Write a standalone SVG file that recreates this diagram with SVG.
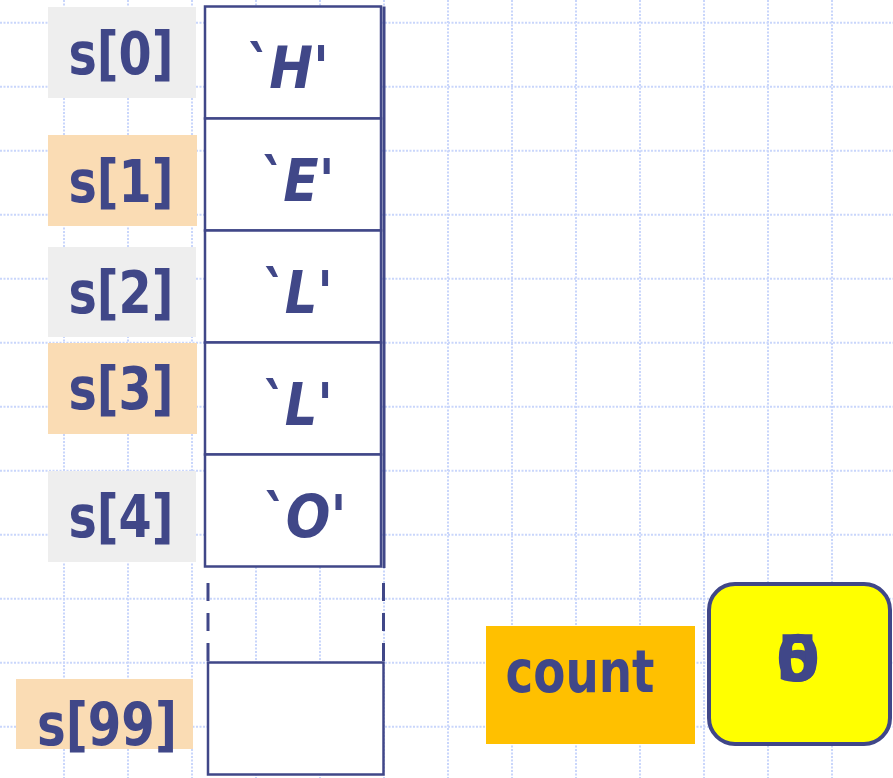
<svg xmlns="http://www.w3.org/2000/svg" width="893" height="778" viewBox="0 0 893 778">
<defs>
<style>
.grid line{stroke:#c9d6fb;stroke-width:2;stroke-dasharray:2 1.5}
.lbl{font-family:"DejaVu Sans",sans-serif;font-weight:bold;font-size:58px;fill:#404788;text-anchor:middle}
.val{font-family:"DejaVu Sans",sans-serif;font-weight:bold;font-style:italic;font-size:58px;fill:#404788;text-anchor:middle}
.cell{fill:#ffffff;stroke:#404788;stroke-width:2.5}
.gray{fill:#eeeeee}
.peach{fill:#fadcb4}
.ln{stroke:#404788;stroke-width:3;fill:none}
</style>
</defs>
<rect width="893" height="778" fill="#ffffff"/>
<g class="grid">
<line x1="64" y1="0" x2="64" y2="778"/><line x1="128" y1="0" x2="128" y2="778"/><line x1="192" y1="0" x2="192" y2="778"/><line x1="256" y1="0" x2="256" y2="778"/><line x1="320" y1="0" x2="320" y2="778"/><line x1="384" y1="0" x2="384" y2="778"/><line x1="448" y1="0" x2="448" y2="778"/><line x1="512" y1="0" x2="512" y2="778"/><line x1="576" y1="0" x2="576" y2="778"/><line x1="640" y1="0" x2="640" y2="778"/><line x1="704" y1="0" x2="704" y2="778"/><line x1="768" y1="0" x2="768" y2="778"/><line x1="832" y1="0" x2="832" y2="778"/>
<line x1="0" y1="22.7" x2="893" y2="22.7"/><line x1="0" y1="86.7" x2="893" y2="86.7"/><line x1="0" y1="150.7" x2="893" y2="150.7"/><line x1="0" y1="214.7" x2="893" y2="214.7"/><line x1="0" y1="278.7" x2="893" y2="278.7"/><line x1="0" y1="342.7" x2="893" y2="342.7"/><line x1="0" y1="406.7" x2="893" y2="406.7"/><line x1="0" y1="470.7" x2="893" y2="470.7"/><line x1="0" y1="534.7" x2="893" y2="534.7"/><line x1="0" y1="598.7" x2="893" y2="598.7"/><line x1="0" y1="662.7" x2="893" y2="662.7"/><line x1="0" y1="726.7" x2="893" y2="726.7"/>
</g>
<g id="label-s0"><rect class="gray" x="48" y="7" width="148" height="91"/><text class="lbl" x="121" y="74" textLength="105" lengthAdjust="spacingAndGlyphs">s[0]</text></g>
<g id="label-s1"><rect class="peach" x="48" y="135" width="149" height="91"/><text class="lbl" x="121" y="202" textLength="105" lengthAdjust="spacingAndGlyphs">s[1]</text></g>
<g id="label-s2"><rect class="gray" x="48" y="247" width="148" height="90"/><text class="lbl" x="121" y="313" textLength="105" lengthAdjust="spacingAndGlyphs">s[2]</text></g>
<g id="label-s3"><rect class="peach" x="48" y="343" width="149" height="91"/><text class="lbl" x="121" y="409" textLength="105" lengthAdjust="spacingAndGlyphs">s[3]</text></g>
<g id="label-s4"><rect class="gray" x="48" y="471" width="148" height="91"/><text class="lbl" x="121" y="537" textLength="105" lengthAdjust="spacingAndGlyphs">s[4]</text></g>
<g id="label-s99"><rect class="peach" x="16" y="679" width="177" height="70"/><text class="lbl" x="107" y="745" textLength="140" lengthAdjust="spacingAndGlyphs">s[99]</text></g>
<g id="cell-0"><rect class="cell" x="205" y="6.5" width="176" height="112"/><text class="val" x="286" y="88" textLength="86" lengthAdjust="spacingAndGlyphs">`H'</text></g>
<g id="cell-1"><rect class="cell" x="205" y="118.5" width="176" height="112"/><text class="val" x="296" y="201" textLength="77" lengthAdjust="spacingAndGlyphs">`E'</text></g>
<g id="cell-2"><rect class="cell" x="205" y="230.5" width="176" height="112"/><text class="val" x="296" y="313" textLength="74" lengthAdjust="spacingAndGlyphs">`L'</text></g>
<g id="cell-3"><rect class="cell" x="205" y="342.5" width="176" height="112"/><text class="val" x="296" y="425" textLength="74" lengthAdjust="spacingAndGlyphs">`L'</text></g>
<g id="cell-4"><rect class="cell" x="205" y="454.5" width="176" height="112"/><text class="val" x="303" y="537" textLength="87" lengthAdjust="spacingAndGlyphs">`O'</text></g>
<g id="cell-99"><rect class="cell" x="208" y="662.5" width="175.5" height="112"/></g>
<g id="connectors">
<line class="ln" x1="384" y1="6.5" x2="384" y2="568"/>
<line class="ln" x1="208" y1="583" x2="208" y2="662" stroke-dasharray="18 12"/>
<line class="ln" x1="383.5" y1="583" x2="383.5" y2="662" stroke-dasharray="18 12"/>
</g>
<g id="count-label"><rect x="486" y="626" width="209" height="118" fill="#ffc000"/><text class="lbl" x="580" y="692" textLength="149" lengthAdjust="spacingAndGlyphs">count</text></g>
<g id="count-value"><rect x="709" y="584" width="181" height="160" rx="26" fill="#ffff00" stroke="#404788" stroke-width="4"/><text class="lbl" x="798" y="681" style="font-size:64px">5</text><text class="lbl" x="798" y="681" style="font-size:64px">0</text></g>
</svg>
